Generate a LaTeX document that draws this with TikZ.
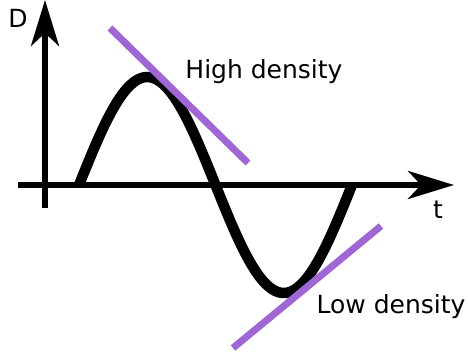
\documentclass[tikz,border=0pt]{standalone}
\usepackage{fontspec}
\setmainfont{DejaVu Sans}
\usetikzlibrary{arrows.meta,positioning,calc}
\definecolor{Ink}{HTML}{000000}
\definecolor{Lilac}{HTML}{A066D6}
\tikzset{axis/.style={-{Stealth[length=46pt,width=28pt,inset=13pt]},line width=5.5pt,draw=Ink},wave/.style={line width=10.5pt,draw=Ink},tangent/.style={line width=7pt,draw=Lilac},lab/.style={font=\fontsize{25}{30}\selectfont,text=Ink,inner sep=0pt}}

\begin{document}
\begin{tikzpicture}[x=1pt,y=1pt]
\useasboundingbox (0,0) rectangle (468,358);
\coordinate (ybot) at (45,150);\coordinate (ytop) at (45,358);
\coordinate (xleft) at (18,173);\coordinate (xright) at (454,173);
\coordinate (hi1) at (110,330);\coordinate (hi2) at (248,195);
\coordinate (lo1) at (233,10);\coordinate (lo2) at (381,132);
\node[lab] (d) at (18,340) {D};
\node[lab] (t) at (438,148) {t};
\node[lab] (high) at (264,286) {High density};
\node[lab] (low) at (391,51) {Low density};
\draw[axis] (ybot)--(ytop);\draw[axis] (xleft)--(xright);
\draw[wave] plot[domain=0:360,samples=90,smooth] ({79+0.7583*\x},{173+108*sin(\x)});
\draw[tangent] (hi1)--(hi2);\draw[tangent] (lo1)--(lo2);
\end{tikzpicture}
\end{document}
